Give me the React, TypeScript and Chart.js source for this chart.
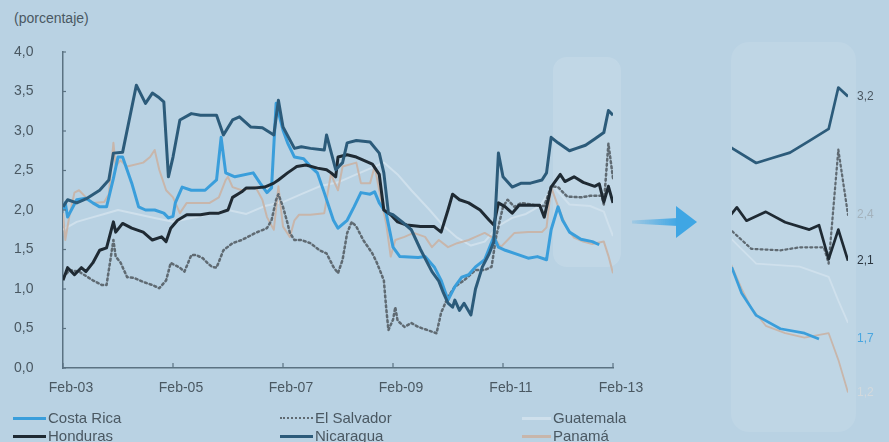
import React, { useEffect, useRef } from "react";
import { Chart, registerables } from "chart.js";

Chart.register(...registerables);

// ---------- DATA (month index: 0 = Feb-03 ... 120 = Feb-13; value in %) ----------
const SERIES_NAMES = ["Costa Rica", "El Salvador", "Guatemala", "Honduras", "Nicaragua", "Panamá"];
const X_TICK_LABELS = ["Feb-03", "Feb-05", "Feb-07", "Feb-09", "Feb-11", "Feb-13"];
const Y_MIN = 0;
const Y_MAX = 4;
const INSET_LABELS = ["1,7", "2,4", "", "2,1", "3,2", "1,2"];
const INSET_FROM = 108;
const INSET_TO = 120;

const costaRica: [number, number][] = [
  [0, 2.0], [0.5, 2.09], [1, 1.91], [3, 2.13], [5, 2.15], [6.5, 2.09], [8, 2.04], [9.5, 2.04],
  [11, 2.4], [12, 2.67], [13, 2.67], [15, 2.34], [16.5, 2.04], [18, 2.0], [20, 2.0], [22, 1.96],
  [23, 1.9], [24, 1.92], [24.5, 2.09], [26, 2.29], [28, 2.25], [31, 2.25], [33.5, 2.38], [34.5, 2.92],
  [35.5, 2.47], [37.5, 2.42], [41.5, 2.47], [43, 2.34], [44.5, 2.22], [45.5, 2.28], [46.5, 3.35],
  [48, 3.01], [49, 2.85], [50.5, 2.67], [52.5, 2.65], [54, 2.55], [55.5, 2.47], [57, 2.22],
  [59, 1.87], [60, 1.77], [62, 1.87], [63.5, 2.04], [65, 2.22], [67, 2.2], [68, 2.23], [69, 2.09],
  [70.5, 1.96], [72, 1.53], [73.5, 1.41], [77.5, 1.4], [79, 1.41], [81, 1.28], [82.5, 1.11],
  [84, 0.86], [85.5, 1.03], [87, 1.15], [88.5, 1.18], [90, 1.28], [92, 1.37], [94, 1.66], [95, 1.53],
  [96.5, 1.49], [98.5, 1.45], [101.5, 1.39], [103.5, 1.41], [105.5, 1.37], [106.5, 1.75], [108, 2.04],
  [109, 1.87], [110.5, 1.72], [113, 1.63], [115.5, 1.6], [117, 1.56],
];

const elSalvador: [number, number][] = [
  [0, 1.15], [1.5, 1.24], [3.5, 1.22], [6.5, 1.11], [8.5, 1.05], [9.5, 1.05], [11, 1.62], [11.5, 1.41],
  [12.5, 1.34], [14, 1.15], [15.5, 1.14], [17.5, 1.09], [19.5, 1.05], [21, 1.01], [22.5, 1.11],
  [23.5, 1.33], [25.5, 1.27], [26.5, 1.22], [28, 1.43], [29, 1.43], [30.5, 1.39], [31.5, 1.33],
  [32.5, 1.28], [33.5, 1.27], [35, 1.49], [37, 1.58], [39, 1.62], [42, 1.71], [44.5, 1.77], [45.5, 1.87],
  [46.5, 2.13], [47, 2.2], [48, 2.04], [49, 1.83], [49.5, 1.71], [50.5, 1.62], [52, 1.62], [54, 1.58],
  [56, 1.49], [57.5, 1.45], [59, 1.28], [60, 1.2], [61, 1.37], [62, 1.71], [63, 1.85], [64, 1.79],
  [65.5, 1.62], [67.5, 1.45], [68.5, 1.33], [70, 1.11], [70.5, 0.77], [71, 0.48], [72, 0.61],
  [72.5, 0.77], [73, 0.6], [74.5, 0.52], [76, 0.57], [77.5, 0.52], [79.5, 0.48], [81.5, 0.44],
  [82.5, 0.7], [84, 0.9], [85.5, 1.03], [87.5, 1.11], [90, 1.24], [92, 1.24], [93.5, 1.28],
  [94.5, 1.66], [96, 2.04], [97, 2.13], [98.5, 2.04], [100, 2.09], [103, 2.06], [105, 2.05],
  [106.5, 2.3], [108, 2.29], [110, 2.17], [113, 2.16], [115, 2.18], [117.5, 2.18], [118, 2.07],
  [119, 2.84], [120, 2.4],
];

const guatemala: [number, number][] = [
  [0, 1.75], [3, 1.85], [6, 1.9], [9, 1.95], [12, 2.0], [16, 1.95], [20, 1.9], [24, 1.85], [28, 1.9],
  [32, 1.95], [36, 2.0], [40, 1.95], [44, 2.05], [48, 2.1], [52, 2.2], [56, 2.3], [60, 2.35],
  [64, 2.45], [68, 2.55], [70, 2.6], [73, 2.45], [76, 2.25], [80, 2.0], [83, 1.8], [86, 1.65],
  [89, 1.55], [92, 1.6], [95, 1.8], [98, 1.9], [101, 1.95], [104, 2.05], [107, 2.3], [108.5, 2.2],
  [110.5, 2.07], [115, 2.05], [118, 1.98], [119, 1.82], [120, 1.67],
];

const honduras: [number, number][] = [
  [0, 1.11], [1, 1.27], [2.5, 1.18], [4, 1.27], [5, 1.22], [6.5, 1.33], [8, 1.49], [9.5, 1.52],
  [11, 1.85], [11.5, 1.72], [13, 1.83], [15, 1.77], [17.5, 1.72], [19.5, 1.62], [21.5, 1.66],
  [22.5, 1.6], [23.5, 1.77], [25, 1.87], [27, 1.94], [30, 1.94], [32, 1.96], [34, 1.96], [36, 2.0],
  [37, 2.16], [39, 2.23], [40, 2.28], [42, 2.28], [44, 2.29], [46, 2.34], [47, 2.38], [49, 2.47],
  [50.5, 2.53], [51, 2.55], [53, 2.57], [55.5, 2.53], [57.5, 2.51], [58.5, 2.47], [59.5, 2.42],
  [60, 2.67], [62, 2.7], [64, 2.67], [67.5, 2.58], [69, 2.45], [70, 2.0], [71.5, 1.94], [73, 1.85],
  [75, 1.81], [78, 1.79], [81, 1.79], [82.5, 1.72], [84, 2.0], [85, 2.2], [86.5, 2.13], [88.5, 2.09],
  [91, 2.0], [93, 1.87], [94, 1.81], [95, 2.09], [96.5, 2.04], [98, 1.96], [99.5, 2.06], [104, 2.06],
  [105, 1.91], [106.5, 2.29], [108.5, 2.45], [109.5, 2.36], [111.5, 2.42], [113.5, 2.35],
  [116, 2.3], [117, 2.33], [118, 2.1], [119, 2.3], [120, 2.09],
];

const nicaragua: [number, number][] = [
  [0, 2.04], [1, 2.13], [3, 2.09], [5, 2.14], [8, 2.25], [10, 2.38], [11, 2.72], [13, 2.73],
  [16, 3.58], [18, 3.35], [19.5, 3.48], [21, 3.42], [22, 3.37], [23, 2.42], [24, 2.67], [25.5, 3.14],
  [28, 3.22], [30, 3.2], [33.5, 3.2], [35, 2.95], [37, 3.14], [38.5, 3.18], [41, 3.05], [43.5, 3.04],
  [46, 2.95], [47, 3.39], [48, 3.05], [50.5, 2.78], [52, 2.8], [54, 2.78], [57, 2.76], [57.5, 2.95],
  [59.5, 2.51], [61, 2.6], [62, 2.85], [64, 2.88], [67, 2.86], [69, 2.72], [70, 2.47], [71, 1.96],
  [72, 1.94], [74, 1.85], [76, 1.75], [78, 1.5], [80.5, 1.22], [82, 1.1], [83, 0.95], [84, 0.82],
  [85, 0.77], [85.5, 0.86], [86.5, 0.73], [87.5, 0.82], [89, 0.67], [90, 1.0], [91.5, 1.28],
  [93, 1.45], [94, 1.6], [95, 2.72], [96, 2.42], [98, 2.29], [100, 2.34], [102, 2.34], [104.5, 2.38],
  [105.5, 2.47], [106.5, 2.92], [108, 2.85], [110.5, 2.75], [112, 2.78], [114, 2.82], [116, 2.9],
  [118, 2.98], [119, 3.26], [120, 3.2],
];

const panama: [number, number][] = [
  [0, 1.96], [0.5, 1.62], [1.5, 1.96], [2.5, 2.22], [3.5, 2.25], [5, 2.16], [6.5, 2.09], [9, 2.1],
  [10, 2.2], [11, 2.85], [11.5, 2.55], [12.5, 2.63], [14, 2.55], [17.5, 2.6], [19, 2.67], [20, 2.76],
  [21, 2.51], [22.5, 2.25], [24, 2.16], [25.5, 1.96], [27, 2.09], [32, 2.09], [34, 2.16], [35.5, 2.38],
  [36, 2.42], [37, 2.29], [39, 2.25], [42, 2.29], [43.5, 2.13], [44.5, 1.91], [46, 1.75], [47, 2.3],
  [48, 1.79], [49.5, 1.66], [50.5, 1.87], [51.5, 1.94], [54, 1.94], [57, 1.96], [58.5, 2.47],
  [59, 2.38], [60, 2.25], [61, 2.55], [64, 2.6], [65, 2.34], [67, 2.34], [68, 2.55], [69, 2.25],
  [70.5, 1.83], [71.5, 1.41], [72.5, 1.62], [74.5, 1.66], [76.5, 1.71], [79, 1.66], [80.5, 1.53],
  [82, 1.62], [84, 1.53], [86, 1.58], [88.5, 1.62], [90, 1.66], [92, 1.71], [93.5, 1.66], [94.5, 1.62],
  [95.5, 1.53], [97, 1.62], [98.5, 1.71], [101.5, 1.72], [104.5, 1.72], [105.5, 1.78], [106.5, 2.29],
  [108, 2.05], [109, 1.9], [110, 1.77], [111.5, 1.65], [113.5, 1.6], [115.5, 1.57], [118, 1.6],
  [119, 1.42], [120, 1.2],
];

const SERIES_VALUES = [costaRica, elSalvador, guatemala, honduras, nicaragua, panama];

// ---------- STYLES ----------
const BG = "#b9d2e3";
const TEXT = "#4a5862";
const AXIS = "#5b7282";
const FONT = "'Liberation Sans', Arial, Helvetica, sans-serif";

const STYLES = [
  { color: "#3a9edb", width: 3, dash: [] as number[], order: 3, labelColor: "#4aa6df" },
  { color: "#5f6a72", width: 2.5, dash: [2, 3], order: 4, labelColor: "#a3b2bc" },
  { color: "#cfe0ec", width: 2, dash: [] as number[], order: 6, labelColor: "#c9d8e2" },
  { color: "#1f2a33", width: 3, dash: [] as number[], order: 2, labelColor: "#2c3640" },
  { color: "#2c5b7a", width: 3, dash: [] as number[], order: 1, labelColor: "#4b5761" },
  { color: "#c8b6ab", width: 2, dash: [] as number[], order: 5, labelColor: "#d3d9dd" },
];

function buildDatasets(widthScale: number) {
  return SERIES_NAMES.map((name, i) => ({
    label: name,
    data: SERIES_VALUES[i].map(([x, y]) => ({ x, y })),
    borderColor: STYLES[i].color,
    borderWidth: STYLES[i].width * widthScale,
    borderDash: STYLES[i].dash,
    borderCapStyle: STYLES[i].dash.length ? ("round" as const) : ("butt" as const),
    borderJoinStyle: "round" as const,
    pointRadius: 0,
    tension: 0,
    fill: false,
    order: STYLES[i].order,
  }));
}

const axisTicksPlugin = {
  id: "axisTicks",
  afterDraw(chart: any) {
    const { ctx, chartArea, scales } = chart;
    const x = scales.x;
    const y = scales.y;
    ctx.save();
    ctx.strokeStyle = AXIS;
    ctx.lineWidth = 1.2;
    x.ticks.forEach((t: any) => {
      const px = x.getPixelForValue(t.value);
      ctx.beginPath();
      ctx.moveTo(px, chartArea.bottom);
      ctx.lineTo(px, chartArea.bottom - 5);
      ctx.stroke();
    });
    y.ticks.forEach((t: any) => {
      const py = y.getPixelForValue(t.value);
      ctx.beginPath();
      ctx.moveTo(chartArea.left - 1, py);
      ctx.lineTo(chartArea.left + 3, py);
      ctx.stroke();
    });
    ctx.restore();
  },
};

const insetLabelsPlugin = {
  id: "insetLabels",
  afterDraw(chart: any) {
    const { ctx, chartArea, scales } = chart;
    ctx.save();
    ctx.font = `12px ${FONT}`;
    ctx.textBaseline = "middle";
    ctx.textAlign = "left";
    SERIES_NAMES.forEach((_, i) => {
      const text = INSET_LABELS[i];
      if (!text) return;
      const pts = SERIES_VALUES[i].filter(([x]) => x <= INSET_TO);
      const last = pts[pts.length - 1];
      ctx.fillStyle = STYLES[i].labelColor;
      ctx.fillText(text, chartArea.right + 9, scales.y.getPixelForValue(last[1]));
    });
    ctx.restore();
  },
};

export default function App() {
  const mainRef = useRef<HTMLCanvasElement | null>(null);
  const insetRef = useRef<HTMLCanvasElement | null>(null);

  useEffect(() => {
    document.body.style.margin = "0";
    document.body.style.background = BG;
    const main = new Chart(mainRef.current as HTMLCanvasElement, {
      type: "line",
      data: { datasets: buildDatasets(1) as any },
      options: {
        animation: false,
        responsive: false,
        maintainAspectRatio: false,
        layout: { padding: { left: 14, right: 276, top: 52, bottom: 44 } },
        plugins: { legend: { display: false }, tooltip: { enabled: false }, title: { display: false } },
        scales: {
          x: {
            type: "linear",
            min: 0,
            max: 120,
            grid: { display: false, drawTicks: false },
            border: { display: true, color: AXIS, width: 1.5 },
            ticks: {
              stepSize: 24,
              autoSkip: false,
              maxRotation: 0,
              padding: 12,
              labelOffset: 8,
              color: TEXT,
              font: { family: FONT, size: 14 },
              callback: (v: any) => X_TICK_LABELS[Math.round(Number(v) / 24)] ?? "",
            },
            afterFit: (s: any) => {
              s.height = 30;
            },
          },
          y: {
            min: Y_MIN,
            max: Y_MAX,
            grid: { display: false, drawTicks: false },
            border: { display: true, color: AXIS, width: 1.5 },
            ticks: {
              stepSize: 0.5,
              crossAlign: "far",
              color: TEXT,
              font: { family: FONT, size: 14 },
              callback: (v: any) => Number(v).toFixed(1).replace(".", ","),
            },
            afterFit: (s: any) => {
              s.width = 49;
            },
          },
        },
      },
      plugins: [axisTicksPlugin],
    });

    const inset = new Chart(insetRef.current as HTMLCanvasElement, {
      type: "line",
      data: { datasets: buildDatasets(0.9) as any },
      options: {
        animation: false,
        responsive: false,
        maintainAspectRatio: false,
        layout: { padding: { left: 32, right: 41, top: 52, bottom: 20 } },
        plugins: { legend: { display: false }, tooltip: { enabled: false } },
        scales: {
          x: { type: "linear", min: INSET_FROM, max: INSET_TO, display: false },
          y: { min: 1.0, max: 3.5, display: false },
        },
      },
      plugins: [insetLabelsPlugin],
    });

    return () => {
      main.destroy();
      inset.destroy();
    };
  }, []);

  const legendItem = (i: number, lineLeft: number, textLeft: number, top: number) => (
    <React.Fragment key={i}>
      <div
        style={{
          position: "absolute",
          left: lineLeft,
          top: top - 1.5,
          width: textLeft - lineLeft - 2,
          height: 0,
          borderTop: `${STYLES[i].dash.length ? 2.5 : 3}px ${STYLES[i].dash.length ? "dotted" : "solid"} ${STYLES[i].color}`,
        }}
      />
      <div
        style={{
          position: "absolute",
          left: textLeft,
          top: top - 9,
          fontSize: 15,
          lineHeight: "18px",
          color: TEXT,
          fontFamily: FONT,
          whiteSpace: "nowrap",
        }}
      >
        {SERIES_NAMES[i]}
      </div>
    </React.Fragment>
  );

  return (
    <div
      style={{
        position: "absolute",
        left: 0,
        top: 0,
        width: 889,
        height: 442,
        background: BG,
        overflow: "hidden",
        fontFamily: FONT,
      }}
    >
      <div
        style={{
          position: "absolute",
          left: 553,
          top: 57,
          width: 68,
          height: 210,
          borderRadius: 14,
          background: "rgba(255,255,255,0.12)",
        }}
      />
      <div
        style={{
          position: "absolute",
          left: 731,
          top: 42,
          width: 125,
          height: 390,
          borderRadius: 18,
          background: "rgba(255,255,255,0.09)",
        }}
      />
      <div
        style={{
          position: "absolute",
          left: 14,
          top: 9,
          fontSize: 14,
          lineHeight: "18px",
          color: TEXT,
          whiteSpace: "nowrap",
        }}
      >
        (porcentaje)
      </div>
      <canvas
        ref={mainRef}
        width={889}
        height={442}
        style={{ position: "absolute", left: 0, top: 0, width: 889, height: 442 }}
      />
      <svg
        width={80}
        height={40}
        style={{ position: "absolute", left: 625, top: 202 }}
      >
        <defs>
          <linearGradient id="arrowGrad" x1="0" y1="0" x2="1" y2="0">
            <stop offset="0" stopColor="#3fa6e4" stopOpacity="0.2" />
            <stop offset="1" stopColor="#3fa6e4" stopOpacity="1" />
          </linearGradient>
        </defs>
        <polygon points="7,18.5 53,16 53,24 7,21.5" fill="url(#arrowGrad)" />
        <polygon points="51,4 72,20 51,36" fill="#3fa6e4" />
      </svg>
      <canvas
        ref={insetRef}
        width={189}
        height={442}
        style={{ position: "absolute", left: 700, top: 0, width: 189, height: 442 }}
      />
      {legendItem(0, 13, 48, 418)}
      {legendItem(3, 13, 48, 436)}
      {legendItem(1, 280, 315, 418)}
      {legendItem(4, 280, 315, 436)}
      {legendItem(2, 522, 553, 418)}
      {legendItem(5, 522, 553, 436)}
    </div>
  );
}
